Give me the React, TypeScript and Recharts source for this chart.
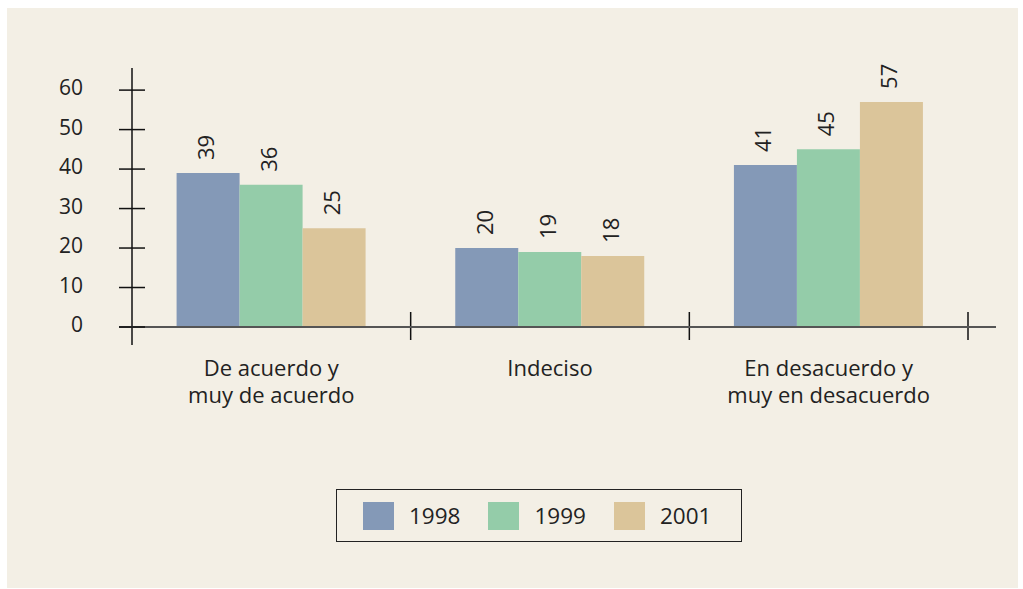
import { BarChart, Bar, XAxis, YAxis, LabelList } from 'recharts'

const categories = ['De acuerdo y\nmuy de acuerdo', 'Indeciso', 'En desacuerdo y\nmuy en desacuerdo']
const years = ['1998', '1999', '2001']
const v1998 = [39, 20, 41]
const v1999 = [36, 19, 45]
const v2001 = [25, 18, 57]
const yTicks = [0, 10, 20, 30, 40, 50, 60]

const COLORS = ['#8499b7', '#94cca9', '#dbc59a']
const FONT = '"Open Sans", "Noto Sans", sans-serif'

const data = categories.map((c, i) => ({ cat: c, '1998': v1998[i], '1999': v1999[i], '2001': v2001[i] }))

// plot box: x 132..968, y 68..345
const PLOT_W = 836
const BAND = PLOT_W / categories.length

function YTick({ x, y, payload }: any) {
  return (
    <g>
      {payload.value === 0 && <line x1={x - 13} x2={x + 864} y1={y} y2={y} stroke="#555" strokeWidth={2} />}
      <line x1={x - 13} x2={x + 13} y1={y} y2={y} stroke="#111" strokeWidth={1.5} />
      <text x={x - 49} y={y + 5} textAnchor="end" fontSize={21} fontFamily={FONT} fill="#222">
        {payload.value}
      </text>
    </g>
  )
}

function XTick({ x, y, payload, index }: any) {
  const lines = String(payload.value).split('\n')
  return (
    <g>
      {index > 0 && <line x1={x - BAND / 2} x2={x - BAND / 2} y1={y - 33} y2={y - 5} stroke="#111" strokeWidth={1.5} />}
      {index === categories.length - 1 && (
        <line x1={x + BAND / 2} x2={x + BAND / 2} y1={y - 33} y2={y - 5} stroke="#111" strokeWidth={1.5} />
      )}
      {lines.map((l, i) => (
        <text key={i} x={x} y={y + 31 + i * 27} textAnchor="middle" fontSize={22} fontFamily={FONT} fill="#222">
          {l}
        </text>
      ))}
    </g>
  )
}

function BarValue({ x, y, width, value }: any) {
  const cx = x + width / 2
  return (
    <text
      transform={`translate(${cx},${y - 13}) rotate(-90)`}
      dy={6}
      textAnchor="start"
      fontSize={22}
      fontFamily={FONT}
      fill="#222"
    >
      {value}
    </text>
  )
}

export default function App() {
  return (
    <div style={{ position: 'relative', width: 1023, height: 589, background: '#fff' }}>
      <style>{'body{margin:0}'}</style>
      <div style={{ position: 'absolute', left: 7, top: 8, width: 1011, height: 580, background: '#f3efe5' }} />
      <div style={{ position: 'absolute', left: 0, top: 0 }}>
        <BarChart
          width={1023}
          height={589}
          data={data}
          margin={{ top: 68, right: 55, bottom: 184, left: 52 }}
          barCategoryGap="16%"
          barGap={0}
        >
          <XAxis
            dataKey="cat"
            height={60}
            axisLine={false}
            tickLine={false}
            tickSize={0}
            tickMargin={0}
            interval={0}
            tick={<XTick />}
          />
          <YAxis
            width={80}
            domain={[-4.56, 65.6]}
            ticks={yTicks}
            axisLine={{ stroke: '#111', strokeWidth: 1.5 }}
            tickLine={false}
            tickSize={0}
            tickMargin={0}
            tick={<YTick />}
          />
          {years.map((yr, i) => (
            <Bar key={yr} dataKey={yr} fill={COLORS[i]} isAnimationActive={false}>
              <LabelList dataKey={yr} content={<BarValue />} />
            </Bar>
          ))}
        </BarChart>
      </div>
      <div
        style={{
          position: 'absolute',
          left: 336,
          top: 489,
          width: 406,
          height: 53,
          border: '1.5px solid #222',
          display: 'flex',
          alignItems: 'center',
          paddingLeft: 26,
          boxSizing: 'border-box',
          fontFamily: FONT,
          fontSize: 22.5,
          color: '#222',
        }}
      >
        {years.map((yr, i) => (
          <div key={yr} style={{ display: 'flex', alignItems: 'center', marginRight: 28 }}>
            <span style={{ display: 'inline-block', width: 31, height: 28, background: COLORS[i], marginRight: 15 }} />
            <span>{yr}</span>
          </div>
        ))}
      </div>
    </div>
  )
}
